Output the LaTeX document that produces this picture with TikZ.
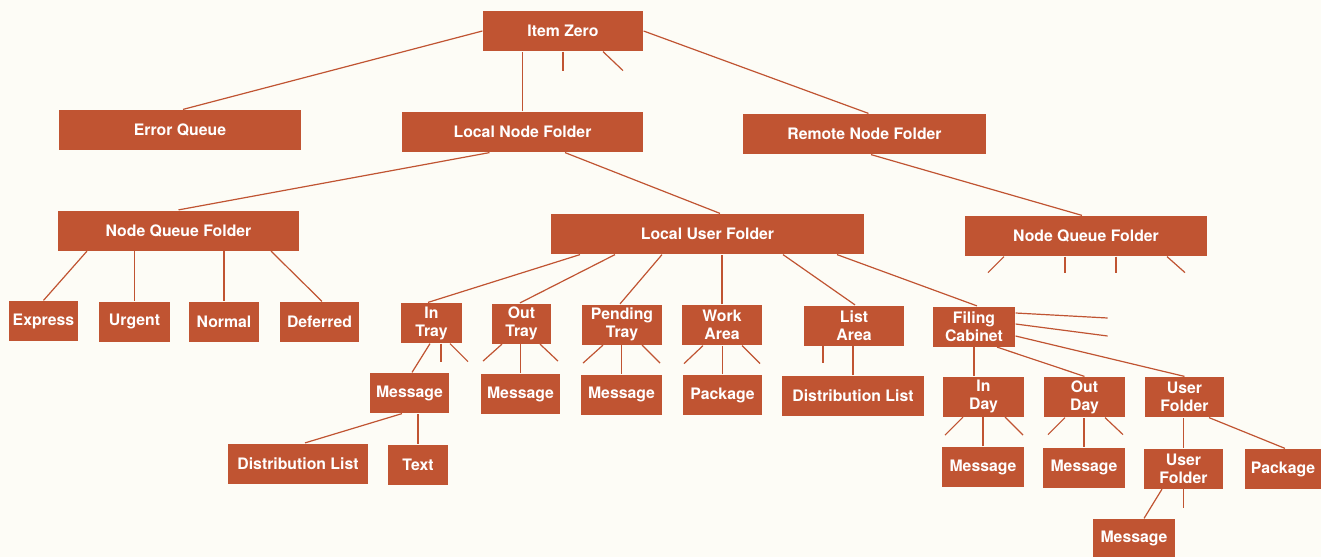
\documentclass[tikz,border=0pt]{standalone}
\usepackage{fontspec}
\setmainfont{TeX Gyre Heros}
\usepackage{tikz}
\usetikzlibrary{positioning}

\definecolor{rust}{RGB}{192,84,50}
\definecolor{paper}{RGB}{253,252,246}

\tikzset{
  box/.style={rectangle, fill=rust, text=white, inner sep=0pt, minimum height=40pt,
    align=center, font=\bfseries\fontsize{15.8}{18}\selectfont},
  link/.style={draw=rust, line width=1.2pt}
}

\begin{document}
\begin{tikzpicture}[x=1pt, y=-1pt, every path/.append style={link}]
				\fill[paper, draw=none] (0,0) rectangle (1321,557);
				\path[use as bounding box, draw=none] (0,0) rectangle (1321,557);

				% top levels
				\node[box, minimum width=160pt] (item) at (563, 31) {Item Zero};
				\node[box, minimum width=242pt] (errq) at (180, 130) {Error Queue};
				\node[box, minimum width=241pt] (lnf) at (522.5, 132) {Local Node Folder};
				\node[box, minimum width=243pt] (rnf) at (864.5, 134) {Remote Node Folder};
				\node[box, minimum width=241pt] (nqf1) at (178.5, 230.5) {Node Queue Folder};
				\node[box, minimum width=313pt] (luf) at (707.5, 234) {Local User Folder};
				\node[box, minimum width=242pt] (nqf2) at (1086, 236) {Node Queue Folder};

				% queues
				\node[box, minimum width=69pt] (expr) at (43.5, 321) {Express};
				\node[box, minimum width=71pt] (urg) at (134.5, 321.5) {Urgent};
				\node[box, minimum width=70pt] (norm) at (224, 321.5) {Normal};
				\node[box, minimum width=79pt] (defr) at (319.5, 322) {Deferred};

				% user folder contents
				\node[box, minimum width=61pt] (intray) at (431.5, 323) {In\\Tray};
				\node[box, minimum width=59pt] (outtray) at (521.5, 323.5) {Out\\Tray};
				\node[box, minimum width=80pt] (pendtray) at (622, 324.5) {Pending\\Tray};
				\node[box, minimum width=80pt] (work) at (722, 325) {Work\\Area};
				\node[box, minimum width=100pt] (list) at (854, 325.5) {List\\Area};
				\node[box, minimum width=82pt] (filing) at (974, 326.5) {Filing\\Cabinet};

				\node[box, minimum width=79pt] (msg1) at (409.5, 393) {Message};
				\node[box, minimum width=79pt] (msg2) at (520.5, 394) {Message};
				\node[box, minimum width=81pt] (msg3) at (621.5, 394.5) {Message};
				\node[box, minimum width=79pt] (pkg1) at (722.5, 395) {Package};
				\node[box, minimum width=142pt] (dist1) at (853, 396) {Distribution List};
				\node[box, minimum width=81pt] (inday) at (983.5, 396.5) {In\\Day};
				\node[box, minimum width=81pt] (outday) at (1084.5, 397) {Out\\Day};
				\node[box, minimum width=79pt] (uf1) at (1184.5, 397) {User\\Folder};

				\node[box, minimum width=140pt] (dist2) at (298, 463.5) {Distribution List};
				\node[box, minimum width=60pt] (txt) at (418, 464.5) {Text};
				\node[box, minimum width=82pt] (msg4) at (983, 467) {Message};
				\node[box, minimum width=82pt] (msg5) at (1084, 467.5) {Message};
				\node[box, minimum width=79pt] (uf2) at (1183.5, 468.5) {User\\Folder};
				\node[box, minimum width=76pt] (pkg2) at (1283, 469) {Package};
				\node[box, minimum width=82pt, minimum height=38pt] (msg6) at (1134, 538) {Message};

				% item zero
				\draw (item.west) to ([xshift=3pt]errq.north);
				\draw (item.east) to ([xshift=4pt]rnf.north);
				\draw (lnf.north) to (lnf.north |- item.south);
				\draw (item.south) -- ++(0,19);
				\draw ([xshift=40pt]item.south) -- ++(20,19);

				% node folders
				\draw ([xshift=-33pt]lnf.south) to (nqf1.north);
				\draw ([xshift=42.5pt]lnf.south) to ([xshift=12.5pt]luf.north);
				\draw ([xshift=6.5pt]rnf.south) to ([xshift=-4pt]nqf2.north);

				\draw ([xshift=-91.5pt]nqf1.south) to (expr.north);
				\draw (urg.north) to (urg.north |- nqf1.south);
				\draw (norm.north) to (norm.north |- nqf1.south);
				\draw ([xshift=92.5pt]nqf1.south) to ([xshift=2.5pt]defr.north);

				\draw ([xshift=-82pt]nqf2.south) -- ++(-16,16);
				\draw ([xshift=-21pt]nqf2.south) -- ++(0,16);
				\draw ([xshift=30pt]nqf2.south) -- ++(0,16);
				\draw ([xshift=81pt]nqf2.south) -- ++(18,16);

				% local user folder
				\draw ([xshift=-127.5pt]luf.south) to ([xshift=-3.5pt]intray.north);
				\draw ([xshift=-92.5pt]luf.south) to ([xshift=-1.5pt]outtray.north);
				\draw ([xshift=-45.5pt]luf.south) to ([xshift=-2pt]pendtray.north);
				\draw (work.north) to (work.north |- luf.south);
				\draw ([xshift=75.5pt]luf.south) to ([xshift=1pt]list.north);
				\draw ([xshift=129.5pt]luf.south) to ([xshift=3pt]filing.north);

				% trays and areas
				\draw ([xshift=-1.5pt]intray.south) to ([xshift=2.5pt]msg1.north);
				\draw ([xshift=9.5pt]intray.south) -- ++(0,18);
				\draw ([xshift=18.5pt]intray.south) -- ++(18,18);

				\draw ([xshift=-19.5pt]outtray.south) -- ++(-19,17);
				\draw (msg2.north) to (msg2.north |- outtray.south);
				\draw ([xshift=18.5pt]outtray.south) -- ++(18,17);

				\draw ([xshift=-19pt]pendtray.south) -- ++(-20,18);
				\draw (msg3.north) to (msg3.north |- pendtray.south);
				\draw ([xshift=20pt]pendtray.south) -- ++(18,18);

				\draw ([xshift=-19pt]work.south) -- ++(-19,18);
				\draw (pkg1.north) to (pkg1.north |- work.south);
				\draw ([xshift=20pt]work.south) -- ++(18,18);

				\draw ([xshift=-31pt]list.south) -- ++(0,17);
				\draw (dist1.north) to (dist1.north |- list.south);

				\draw ([xshift=-7.5pt]msg1.south) to ([xshift=7pt]dist2.north);
				\draw (txt.north) to (txt.north |- msg1.south);

				% filing cabinet
				\draw ([yshift=13.5pt]filing.east) -- ++(92,5);
				\draw ([yshift=2.5pt]filing.east) -- ++(92,12);
				\draw ([yshift=-9.5pt]filing.east) to (uf1.north);
				\draw ([xshift=23pt]filing.south) to (outday.north);
				\draw (filing.south) to (filing.south |- inday.north);

				\draw ([xshift=-20.5pt]inday.south) -- ++(-18,18);
				\draw (msg4.north) to (msg4.north |- inday.south);
				\draw ([xshift=21.5pt]inday.south) -- ++(18,18);

				\draw ([xshift=-19.5pt]outday.south) -- ++(-17,17);
				\draw (msg5.north) to (msg5.north |- outday.south);
				\draw ([xshift=20.5pt]outday.south) -- ++(18,17);

				\draw (uf2.north) to (uf2.north |- uf1.south);
				\draw ([xshift=24.5pt]uf1.south) to ([xshift=2pt]pkg2.north);

				\draw ([xshift=-21.5pt]uf2.south) to ([xshift=10pt]msg6.north);
				\draw (uf2.south) -- ++(0,19);
\end{tikzpicture}
\end{document}
